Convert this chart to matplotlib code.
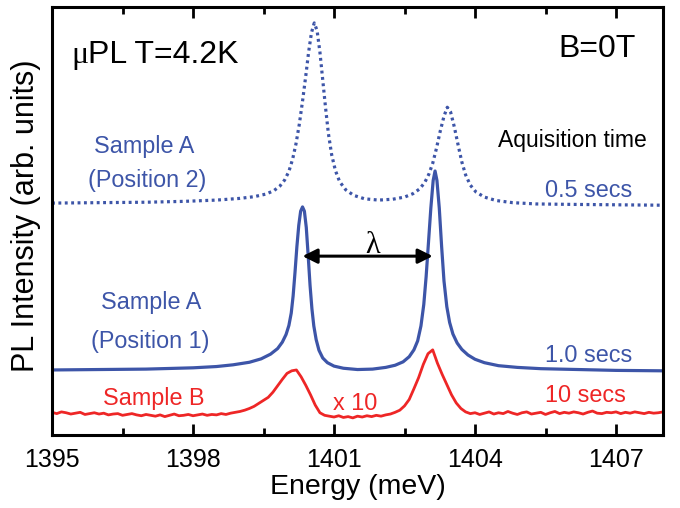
import matplotlib
matplotlib.use('Agg')
import matplotlib.pyplot as plt
from matplotlib.ticker import MultipleLocator
import numpy as np

# colours
blue = '#3d55a8'
red = '#ee2626'

# Sample A, position 2 (dotted, 0.5 secs)
pos2_energy = [1395.0, 1396.0, 1397.0, 1397.8, 1398.5, 1399.0, 1399.3, 1399.55,
               1399.72, 1399.85, 1399.95, 1400.04, 1400.12, 1400.19, 1400.26, 1400.33,
               1400.4, 1400.46, 1400.52, 1400.58, 1400.64, 1400.7, 1400.76, 1400.82,
               1400.88, 1400.95, 1401.03, 1401.12, 1401.25, 1401.42, 1401.65, 1401.95,
               1402.25, 1402.5, 1402.68, 1402.82, 1402.93, 1403.02, 1403.1, 1403.18,
               1403.26, 1403.34, 1403.41, 1403.48, 1403.56, 1403.64, 1403.72, 1403.8,
               1403.9, 1404.02, 1404.2, 1404.45, 1404.8, 1405.3, 1406.0, 1407.0,
               1408.0]
pos2_int = [54.2, 54.3, 54.4, 54.6, 54.9, 55.3, 55.7, 56.3,
            57.1, 58.2, 59.6, 61.6, 64.5, 68.0, 72.5, 78.0,
            84.0, 89.5, 94.0, 96.3, 94.5, 89.5, 83.0, 76.5,
            70.5, 65.5, 61.8, 59.2, 57.3, 56.0, 55.2, 54.9,
            55.1, 55.6, 56.4, 57.5, 59.0, 61.0, 63.5, 67.0,
            71.0, 74.5, 76.6, 75.5, 72.0, 67.8, 63.8, 60.8,
            58.4, 56.8, 55.6, 54.8, 54.3, 54.0, 53.9, 53.8,
            53.7]

# Sample A, position 1 (solid, 1.0 secs)
pos1_energy = [1395.0, 1396.0, 1397.0, 1398.0, 1398.5, 1398.85, 1399.2, 1399.45,
               1399.65, 1399.8, 1399.9, 1399.98, 1400.04, 1400.09, 1400.13, 1400.17,
               1400.21, 1400.25, 1400.29, 1400.33, 1400.37, 1400.41, 1400.45, 1400.49,
               1400.53, 1400.57, 1400.62, 1400.68, 1400.76, 1400.86, 1401.0, 1401.2,
               1401.5, 1401.82, 1402.1, 1402.3, 1402.47, 1402.6, 1402.7, 1402.78,
               1402.85, 1402.91, 1402.96, 1403.01, 1403.06, 1403.11, 1403.15, 1403.19,
               1403.24, 1403.29, 1403.34, 1403.4, 1403.46, 1403.53, 1403.62, 1403.72,
               1403.85, 1404.0, 1404.2, 1404.5, 1404.9, 1405.4, 1406.2, 1407.0,
               1408.0]
pos1_int = [15.2, 15.3, 15.4, 15.7, 16.0, 16.4, 17.0, 17.8,
            18.9, 20.2, 21.7, 23.5, 25.6, 28.5, 32.5, 38.0,
            44.0, 49.0, 52.3, 53.3, 52.3, 48.5, 42.0, 35.0,
            29.5, 25.5, 22.3, 19.8, 18.0, 16.9, 16.1, 15.6,
            15.3, 15.4, 15.8, 16.3, 17.1, 18.3, 19.9, 22.0,
            25.5, 30.5, 37.0, 45.0, 53.0, 59.5, 61.7, 59.5,
            53.0, 44.0, 36.0, 30.0, 26.3, 23.6, 21.5, 20.0,
            18.7, 17.7, 16.9, 16.2, 15.8, 15.5, 15.3, 15.1,
            15.0]

# Sample B (x10, 10 secs), 0.1 meV steps from 1395.0 to 1408.0
sampleB_energy = np.round(np.arange(1395.0, 1408.05, 0.1), 1)
sampleB_int = [5.3, 5.0, 5.4, 5.2, 4.9, 5.1, 5.3, 4.8, 5.0, 5.2,
               4.9, 5.1, 4.7, 4.9, 5.0, 4.6, 4.8, 5.0, 4.7, 4.5,
               4.8, 4.6, 4.4, 4.7, 4.3, 4.6, 4.9, 4.5, 4.6, 4.8,
               4.5, 4.7, 4.9, 4.6, 4.8, 4.7, 5.0, 4.8, 5.1, 5.3,
               5.5, 5.8, 6.2, 6.7, 7.4, 8.1, 8.8, 10.0, 11.5, 13.0,
               14.4, 15.0, 15.2, 13.6, 11.6, 9.4, 7.0, 5.2, 4.6, 4.4,
               4.2, 4.5, 4.1, 4.3, 4.0, 4.4, 4.2, 4.5, 4.3, 4.6,
               4.4, 4.7, 4.9, 5.3, 5.8, 6.8, 8.3, 10.8, 13.4, 16.5,
               19.0, 19.9, 16.8, 14.2, 11.8, 9.4, 7.5, 6.2, 5.4, 5.0,
               5.2, 4.8, 5.1, 5.4, 4.9, 5.2, 5.0, 5.5, 5.1, 4.8,
               5.2, 5.4, 4.9, 5.1, 5.3, 4.8, 5.2, 5.5, 5.0, 5.3,
               5.1, 5.4, 5.2, 4.9, 5.3, 5.6, 5.1, 5.0, 5.3, 5.2,
               5.4, 5.0, 5.3, 5.1, 5.4, 5.2, 5.0, 5.3, 5.1, 5.2,
               5.4]

plt.rcParams['font.family'] = ['Liberation Sans', 'DejaVu Sans']

fig = plt.figure(figsize=(6.8, 5.08), dpi=100)
ax = fig.add_axes([0.0765, 0.1437, 0.8985, 0.8423])

ax.plot(pos2_energy, pos2_int, color=blue, lw=2.3, linestyle=(0, (0.9, 1.1)),
        dash_capstyle='butt')
ax.plot(pos1_energy, pos1_int, color=blue, lw=2.3)
ax.plot(sampleB_energy, sampleB_int, color=red, lw=2.0)

ax.set_xlim(1395, 1408)
ax.set_ylim(0, 100)
ax.xaxis.set_major_locator(MultipleLocator(3))
ax.xaxis.set_minor_locator(MultipleLocator(1.5))
ax.set_yticks([])
ax.tick_params(axis='x', which='both', direction='in', top=True, width=2, labelsize=18)
ax.tick_params(axis='x', which='major', length=8, pad=9)
ax.tick_params(axis='x', which='minor', length=5)
for s in ax.spines.values():
    s.set_linewidth(2.2)

ax.set_xlabel('Energy (meV)', fontsize=20.5, labelpad=2)
ax.set_ylabel('PL Intensity (arb. units)', fontsize=22)
ax.yaxis.set_label_coords(-0.018, 0.512)

# headline texts
ax.text(1395.42, 86.9, 'μ', fontsize=23, family='Liberation Serif', va='baseline')
ax.text(1395.76, 86.9, 'PL T=4.2K', fontsize=23, va='baseline')
ax.text(1407.42, 88.3, 'B=0T', fontsize=23, ha='right', va='baseline')
ax.text(1407.65, 67.3, 'Aquisition time', fontsize=16.5, ha='right', va='baseline')

# curve labels
ax.text(1396.97, 65.9, 'Sample A', fontsize=16.8, color=blue, ha='center', va='baseline')
ax.text(1397.02, 57.9, '(Position 2)', fontsize=16.8, color=blue, ha='center', va='baseline')
ax.text(1397.1, 29.4, 'Sample A', fontsize=16.8, color=blue, ha='center', va='baseline')
ax.text(1397.1, 20.3, '(Position 1)', fontsize=16.8, color=blue, ha='center', va='baseline')
ax.text(1397.17, 7.0, 'Sample B', fontsize=16.8, color=red, ha='center', va='baseline')
ax.text(1401.92, 5.8, 'x 10', fontsize=16.8, color=red, ha='right', va='baseline')
ax.text(1407.34, 55.6, '0.5 secs', fontsize=16.8, color=blue, ha='right', va='baseline')
ax.text(1407.34, 17.1, '1.0 secs', fontsize=16.8, color=blue, ha='right', va='baseline')
ax.text(1407.21, 7.7, '10 secs', fontsize=16.8, color=red, ha='right', va='baseline')

# splitting arrow
ax.annotate('', xy=(1400.33, 41.8), xytext=(1403.1, 41.8),
            arrowprops=dict(arrowstyle='<|-|>', color='black', lw=2.2,
                            mutation_scale=22, shrinkA=0, shrinkB=0))
ax.text(1401.82, 44.4, 'λ', fontsize=22, family='Liberation Serif', ha='center', va='center')

plt.savefig('out.png', dpi=100)
